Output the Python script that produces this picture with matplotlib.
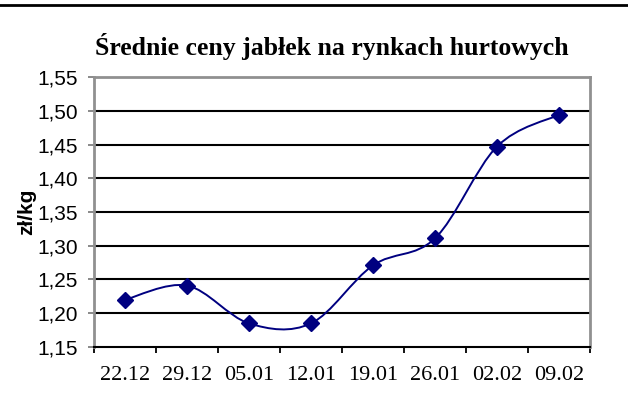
import numpy as np
import matplotlib.pyplot as plt
from matplotlib.path import Path
from matplotlib.patches import PathPatch
from matplotlib.lines import Line2D

dates = ['22.12', '29.12', '05.01', '12.01', '19.01', '26.01', '02.02', '09.02']
prices = [1.220, 1.241, 1.185, 1.185, 1.271, 1.311, 1.447, 1.494]
yticks = [1.15, 1.20, 1.25, 1.30, 1.35, 1.40, 1.45, 1.50, 1.55]

navy = '#000080'

fig = plt.figure(figsize=(6.28, 4.19), dpi=100)
ax = fig.add_axes([94/628, 1 - 347/419, 496/628, 270/419])

x = np.arange(len(dates)) + 0.5
y = np.array(prices)

# smoothed line like excel: cubic bezier between the points
pts = np.column_stack([x, y])
ext = np.vstack([pts[0], pts, pts[-1]])
verts = [pts[0]]
codes = [Path.MOVETO]
for i in range(len(pts) - 1):
    p0, p1, p2, p3 = ext[i], ext[i + 1], ext[i + 2], ext[i + 3]
    c1 = p1 + (p2 - p0) / 6
    c2 = p2 - (p3 - p1) / 6
    verts += [c1, c2, p2]
    codes += [Path.CURVE4] * 3
ax.add_patch(PathPatch(Path(verts, codes), fill=False, edgecolor=navy,
                       lw=1.4, zorder=3))
ax.plot(x, y, linestyle='none', marker='D', ms=8, color=navy, zorder=4)

ax.set_xlim(0, len(dates))
ax.set_ylim(1.15, 1.55)
ax.set_yticks(yticks)
ax.set_yticklabels([f'{v:.2f}'.replace('.', ',') for v in yticks],
                   family='Liberation Sans', fontsize=15)
ax.set_xticks(np.arange(len(dates) + 1))
ax.set_xticklabels([])
ax.set_xticks(x, minor=True)
ax.set_xticklabels(dates, minor=True, family='Liberation Serif', fontsize=16)
ax.tick_params(axis='x', which='minor', length=0, pad=14)
ax.tick_params(axis='x', which='major', length=4, width=1.3, color='black')
ax.tick_params(axis='y', length=4.5, width=1.3, color='#808080', pad=7)

for v in yticks[1:-1]:
    ax.axhline(v, color='black', lw=1.5, zorder=1)

for s in ['left', 'right', 'top']:
    ax.spines[s].set_color('#909090')
    ax.spines[s].set_linewidth(2)
ax.spines['bottom'].set_color('black')
ax.spines['bottom'].set_linewidth(1.5)

ax.set_ylabel('zł/kg', family='Liberation Sans', fontweight='bold',
              fontsize=15, labelpad=1)
fig.text(332/628, 1 - 46/419, 'Średnie ceny jabłek na rynkach hurtowych',
         family='Liberation Serif', fontweight='bold', fontsize=18.5,
         ha='center', va='center')

fig.add_artist(Line2D([0, 1], [1 - 5.5/419] * 2, color='black', lw=2))

fig.savefig('out.png', dpi=100)
